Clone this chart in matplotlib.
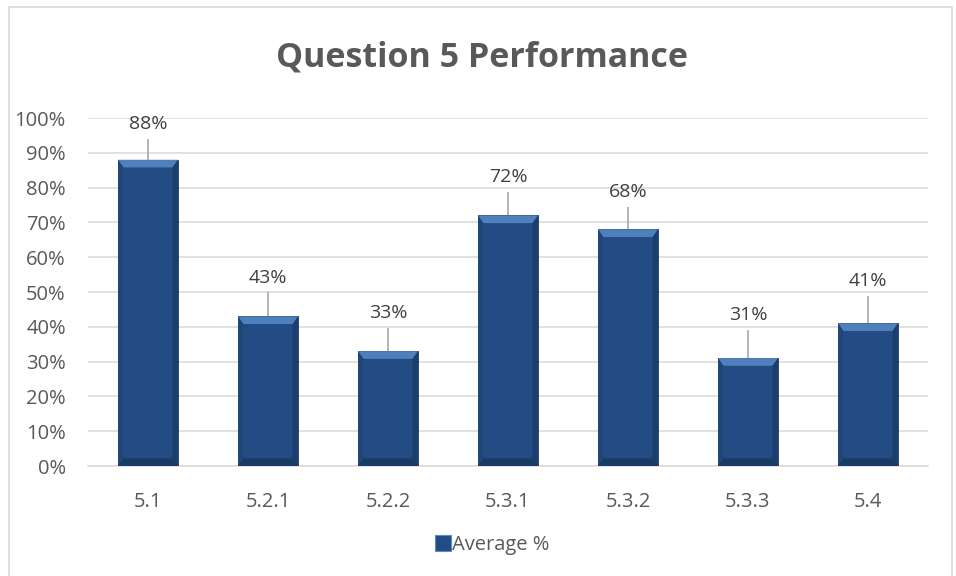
import matplotlib.pyplot as plt
from matplotlib.patches import Polygon, Rectangle
from matplotlib.lines import Line2D
from matplotlib.ticker import PercentFormatter

categories = ['5.1', '5.2.1', '5.2.2', '5.3.1', '5.3.2', '5.3.3', '5.4']
average = [0.88, 0.43, 0.33, 0.72, 0.68, 0.31, 0.41]
upper_err = [0.06, 0.069, 0.067, 0.067, 0.065, 0.081, 0.078]

plt.rcParams['font.family'] = ['Open Sans', 'DejaVu Sans']
grey_text = '#595959'
face = '#234c84'

fig = plt.figure(figsize=(9.56, 5.76), dpi=100)
ax = fig.add_axes([88 / 956, 1 - 466 / 576, 840 / 956, 348 / 576])

# chart frame
fig.patches.append(Rectangle((9 / 956, -0.05), 943 / 956, 1.05 - 7 / 576,
                             transform=fig.transFigure, fill=False,
                             edgecolor='#d9d9d9', linewidth=1.2))

x = range(len(categories))
bars = ax.bar(x, average, width=0.5, color=face, edgecolor='#1a3a66',
              linewidth=0.6, zorder=3)

# bevel shading on every bar
bx, by = 0.045, 0.022
for b in bars:
    x0, w, h = b.get_x(), b.get_width(), b.get_height()
    x1 = x0 + w
    top = Polygon([(x0, h), (x1, h), (x1 - bx, h - by), (x0 + bx, h - by)],
                  closed=True, facecolor='#4f80bd', edgecolor='none', zorder=4)
    left = Polygon([(x0, 0), (x0, h), (x0 + bx, h - by), (x0 + bx, by)],
                   closed=True, facecolor='#204678', edgecolor='none', zorder=4)
    right = Polygon([(x1, 0), (x1, h), (x1 - bx, h - by), (x1 - bx, by)],
                    closed=True, facecolor='#1c3e6c', edgecolor='none', zorder=4)
    bottom = Polygon([(x0, 0), (x1, 0), (x1 - bx, by), (x0 + bx, by)],
                     closed=True, facecolor='#1a3a66', edgecolor='none', zorder=4)
    for p in (top, left, right, bottom):
        ax.add_patch(p)

ax.errorbar(list(x), average, yerr=[[0] * len(average), upper_err],
            fmt='none', ecolor='#a0a0a0', elinewidth=1.1, capsize=0, zorder=2)

for i, v in enumerate(average):
    ax.annotate(f'{v:.0%}', (i, v + upper_err[i]), xytext=(0, 7),
                textcoords='offset points', ha='center', va='baseline',
                fontsize=14, color='#404040')

ax.set_xlim(-0.5, len(categories) - 0.5)
ax.set_ylim(0, 1)
ax.set_yticks([i / 10 for i in range(11)])
ax.yaxis.set_major_formatter(PercentFormatter(1.0, decimals=0))
ax.set_xticks(list(x))
ax.set_xticklabels(categories)
ax.tick_params(axis='both', length=0, labelsize=14.5, labelcolor=grey_text)
ax.tick_params(axis='x', pad=19)
ax.tick_params(axis='y', pad=16)
ax.grid(axis='y', color='#d9d9d9', linewidth=1.1, zorder=0)
ax.set_axisbelow(True)
for s in ['top', 'right', 'left']:
    ax.spines[s].set_visible(False)
ax.spines['bottom'].set_color('#d9d9d9')
ax.spines['bottom'].set_linewidth(1.1)

fig.text(482 / 956, 1 - 57 / 576, 'Question 5 Performance', ha='center',
         va='center', fontsize=24.5, fontweight='bold', color=grey_text)

handle = Line2D([], [], marker='s', linestyle='none', markersize=11,
                markerfacecolor=face, markeredgecolor='#5b8bc6', markeredgewidth=0.8)
fig.legend([handle], ['Average %'], loc='center', bbox_to_anchor=(492 / 956, 1 - 545 / 576),
           frameon=False, fontsize=14.5, handletextpad=0.0, handlelength=0.9,
           labelcolor=grey_text)

fig.savefig('out.png', dpi=100)
